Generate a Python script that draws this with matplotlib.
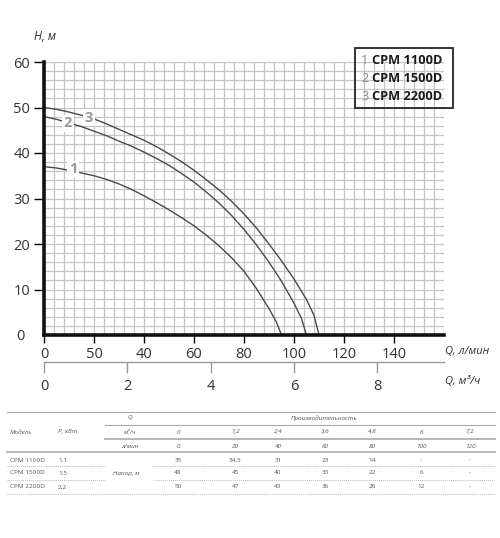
import numpy as np
import matplotlib
matplotlib.use("Agg")
import matplotlib.pyplot as plt
import matplotlib.patches as patches

plt.rcParams['font.family'] = ['Open Sans', 'DejaVu Sans']

# кривые Q-H (Q в л/мин, H в м)
q1 = [0, 5, 10, 15, 20, 25, 30, 35, 40, 45, 50, 55, 60, 65, 70, 75, 80, 85, 90, 93, 95]
h1 = [37, 36.7, 36.2, 35.6, 35, 34.2, 33.2, 32, 30.6, 29.1, 27.5, 25.8, 24, 21.9,
      19.6, 17, 14, 10.2, 5.8, 2.8, 0]
q2 = [0, 5, 10, 15, 20, 25, 30, 35, 40, 45, 50, 55, 60, 65, 70, 75, 80, 85, 90, 95,
      100, 103, 105]
h2 = [48, 47.4, 46.6, 45.8, 44.8, 43.8, 42.6, 41.5, 40.2, 38.8, 37.3, 35.5, 33.6,
      31.4, 29, 26.3, 23.2, 19.8, 16, 11.8, 7, 3.6, 0]
q3 = [0, 5, 10, 15, 20, 25, 30, 35, 40, 45, 50, 55, 60, 65, 70, 75, 80, 85, 90, 95,
      100, 105, 108, 110]
h3 = [50, 49.6, 49, 48.3, 47.5, 46.4, 45.2, 44, 42.8, 41.4, 39.8, 38.1, 36.2, 34.1,
      31.9, 29.4, 26.6, 23.5, 20, 16.3, 12.3, 7.8, 4.3, 0]
curves = [(q1, h1, '1'), (q2, h2, '2'), (q3, h3, '3')]

models = ['CPM 1100D', 'CPM 1500D', 'CPM 2200D']
power = ['1,1', '1,5', '2,2']
x_ticks_lmin = [0, 20, 40, 60, 80, 100, 120, 140]
x_labels_lmin = ['0', '50', '40', '60', '80', '100', '120', '140']
x_ticks_m3h = [0, 2, 4, 6, 8]
y_ticks = [10, 20, 30, 40, 50, 60]

# таблица
t_m3h = ['0', '1,2', '2,4', '3,6', '4,8', '6', '7,2']
t_lmin = ['0', '20', '40', '60', '80', '100', '120']
t_head = [
    ['35', '34,5', '31', '23', '14', '-', '-'],
    ['48', '45', '40', '33', '22', '6', '-'],
    ['50', '47', '43', '36', '26', '12', '-'],
]

W, H = 500, 538
fig = plt.figure(figsize=(W / 100, H / 100), dpi=100)

def fx(px):
    return px / W

def fy(py):
    return 1 - py / H

# основной график
ax = fig.add_axes([fx(44), fy(335), 400 / W, 273 / H])
ax.set_xlim(0, 160)
ax.set_ylim(0, 60)
for s in ['top', 'right']:
    ax.spines[s].set_visible(False)
for s in ['left', 'bottom']:
    ax.spines[s].set_linewidth(2.6)
    ax.spines[s].set_color('#111111')

ax.set_xticks(x_ticks_lmin)
ax.set_xticklabels(x_labels_lmin)
ax.set_yticks(y_ticks)
ax.set_xticks(np.arange(0, 161, 4), minor=True)
ax.set_yticks(np.arange(0, 61, 2), minor=True)
ax.xaxis.remove_overlapping_locs = False
ax.yaxis.remove_overlapping_locs = False
ax.tick_params(which='minor', length=0)
ax.tick_params(axis='x', which='major', direction='out', length=6, width=1,
               pad=3, labelsize=10.5, labelcolor='#333333')
ax.tick_params(axis='y', which='major', direction='out', length=7, width=1,
               pad=3, labelsize=10.5, labelcolor='#333333')
ax.grid(which='minor', color='#c4c4c4', linewidth=0.9)
ax.set_axisbelow(True)

for q, h, lab in curves:
    ax.plot(q, h, color='#4a4a4a', linewidth=1.0)

# номера кривых
lab_pos = {'1': (11.6, 36.4), '2': (9.6, 46.5), '3': (18, 47.8)}
for lab, (xq, yh) in lab_pos.items():
    ax.text(xq, yh, lab, color='#9a9a9a', fontsize=10.5, fontweight='bold',
            ha='center', va='center',
            bbox=dict(facecolor='white', edgecolor='none', pad=1.2))

# вторая шкала м3/ч
ax2 = fig.add_axes([fx(44), fy(362), 400 / W, 0.0001])
ax2.set_xlim(0, 9.6)
ax2.patch.set_visible(False)
for s in ['top', 'right', 'left']:
    ax2.spines[s].set_visible(False)
ax2.spines['bottom'].set_color('#999999')
ax2.spines['bottom'].set_linewidth(1)
ax2.set_yticks([])
ax2.set_xticks(x_ticks_m3h)
ax2.tick_params(axis='x', direction='out', length=8, width=1, color='#999999',
                pad=4, labelsize=10.5, labelcolor='#333333')

# подписи и таблица в пиксельных координатах
ov = fig.add_axes([0, 0, 1, 1])
ov.set_xlim(0, W)
ov.set_ylim(H, 0)
ov.axis('off')
ov.patch.set_visible(False)

ov.text(20, 337, '0', fontsize=10.5, color='#333333', ha='center', va='center')
ov.text(34, 37, 'H, м', fontsize=8.5, color='#333333', style='italic', ha='left', va='center')
ov.text(445, 351, 'Q, л/мин', fontsize=8, color='#333333', style='italic', ha='left', va='center')
ov.text(445, 381, 'Q, м³/ч', fontsize=8, color='#333333', style='italic', ha='left', va='center')

ov.add_patch(patches.Rectangle((355, 48), 98, 60, fill=False, edgecolor='#333333',
                               linewidth=1.4))
for i, m in enumerate(models):
    yy = 61 + i * 17.5
    ov.text(361, yy, str(i + 1), fontsize=9.2, color='#8a8a8a', ha='left', va='center')
    ov.text(372, yy, m, fontsize=9.2, color='#1a1a1a', fontweight='bold',
            ha='left', va='center')

tc = '#555555'
fs = 4.6
col_x = [178, 235, 278, 325, 372, 421, 470]
ov.plot([7, 495], [412, 412], color='#aaaaaa', lw=0.8)
ov.plot([105, 495], [424.5, 424.5], color='#aaaaaa', lw=0.8)
ov.plot([105, 495], [439, 439], color='#aaaaaa', lw=1.2)
ov.plot([7, 495], [452, 452], color='#aaaaaa', lw=1.2)
for yl in [466, 480]:
    ov.plot([7, 105], [yl, yl], color='#bbbbbb', lw=0.7, ls=(0, (1, 1)))
    ov.plot([153, 495], [yl, yl], color='#bbbbbb', lw=0.7, ls=(0, (1, 1)))
ov.plot([7, 495], [494, 494], color='#bbbbbb', lw=0.7, ls=(0, (1, 1)))

ov.text(10, 432, 'Модель', fontsize=fs, color=tc, style='italic', ha='left', va='center')
ov.text(58, 432, 'P, кВт', fontsize=fs, color=tc, style='italic', ha='left', va='center')
ov.text(130, 418, 'Q', fontsize=fs, color=tc, style='italic', ha='center', va='center')
ov.text(130, 432, 'м³/ч', fontsize=fs, color=tc, style='italic', ha='center', va='center')
ov.text(130, 446, 'л/мин', fontsize=fs, color=tc, style='italic', ha='center', va='center')
ov.text(324, 418, 'Производительность', fontsize=fs, color=tc, style='italic',
        ha='center', va='center')
ov.text(126, 473, 'Напор, м', fontsize=fs, color=tc, style='italic', ha='center', va='center')

for xc, a, b in zip(col_x, t_m3h, t_lmin):
    ov.text(xc, 432, a, fontsize=fs, color=tc, style='italic', ha='center', va='center')
    ov.text(xc, 446, b, fontsize=fs, color=tc, style='italic', ha='center', va='center')

row_y = [460, 473, 487]
for yy, m, p, vals in zip(row_y, models, power, t_head):
    ov.text(10, yy, m, fontsize=fs, color=tc, ha='left', va='center')
    ov.text(58, yy, p, fontsize=fs, color=tc, ha='left', va='center')
    for xc, v in zip(col_x, vals):
        ov.text(xc, yy, v, fontsize=fs, color=tc, ha='center', va='center')

fig.savefig('out.png', dpi=100)
